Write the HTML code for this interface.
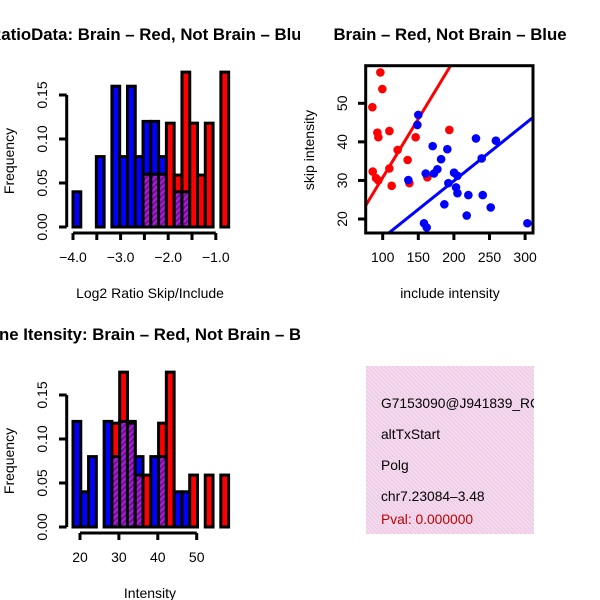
<!DOCTYPE html>
<html><head><meta charset="utf-8"><style>
html,body{margin:0;padding:0;background:#fff}
svg{display:block;font-family:"Liberation Sans",Arial,sans-serif}
</style></head><body>
<svg id="c" width="600" height="600" viewBox="0 0 600 600" xmlns="http://www.w3.org/2000/svg">
<defs>
<pattern id="hatch" width="4" height="4" patternUnits="userSpaceOnUse" patternTransform="rotate(45)">
<rect width="4" height="4" fill="#a020f0"/><rect width="2" height="4" fill="#7a1080"/>
</pattern>
<pattern id="pinkhatch" width="3" height="3" patternUnits="userSpaceOnUse" patternTransform="rotate(-45)">
<rect width="3" height="3" fill="#f8d8f0"/><rect width="1" height="3" fill="#e4cce0"/>
</pattern>
<clipPath id="clipL"><rect x="0" y="0" width="300" height="600"/></clipPath>
<clipPath id="clipSc"><rect x="366" y="66" width="167" height="167"/></clipPath>
<clipPath id="clipBox"><rect x="366" y="366" width="168" height="168"/></clipPath>
</defs>
<g id="g1"></g>
<g id="g2"></g>
<g id="g3"></g>
<g clip-path="url(#clipBox)">
<rect x="366" y="366" width="168" height="168" fill="url(#pinkhatch)"/>
<text x="381" y="408" font-size="13.8">G7153090@J941839_RC</text>
<text x="381" y="439" font-size="13.8">altTxStart</text>
<text x="381" y="470" font-size="13.8">Polg</text>
<text x="381" y="501" font-size="13.8">chr7.23084–3.48</text>
<text x="381" y="524" font-size="13.8" fill="#c00000">Pval: 0.000000</text>
</g>
</svg>
<script>
// ---- histogram 1 data (Log2 ratio) ----
const h1Start = -4.0;
const h1Width = 0.1635;
const h1Blue = [0.04,0,0,0.08,0,0.16,0.08,0.16,0.08,0.12,0.12,0.08,0,0.04,0.04,0,0,0,0,0];
const h1Red  = [0,0,0,0,0,0,0,0,0,0.06,0.06,0.06,0.118,0.059,0.176,0.118,0.059,0.118,0,0.176];
const h1XTicks = [-4.0,-3.5,-3.0,-2.5,-2.0,-1.5,-1.0];
const h1XLabels = ["−4.0","","−3.0","","−2.0","","−1.0"];
// ---- histogram 2 data (Intensity) ----
const h2Start = 18.2;
const h2Width = 2.0;
const h2Blue = [0.12,0.04,0.08,0,0.12,0.08,0.12,0.12,0.08,0,0.08,0.08,0,0.04,0.04,0,0,0,0,0];
const h2Red  = [0,0,0,0,0,0.118,0.176,0.118,0.059,0.059,0,0.118,0.176,0,0,0.059,0,0.059,0,0.059];
const h2XTicks = [20,30,40,50];
const yTicks = [0,0.05,0.10,0.15];
const yLabels = ["0.00","0.05","0.10","0.15"];
// ---- scatter data ----
const redX = [96.7,99.5,85.5,92.5,93.9,109.4,146.3,193.6,121,135,86,90.6,93.9,109.4,112.6,137.5,162.7];
const redY = [58.0,53.7,49.0,42.4,41.2,42.8,41.2,43.1,37.9,35.3,32.3,30.6,30.0,33.1,28.6,29.3,30.8];
const blueX = [150,148.7,136,170.2,190.8,182,176.8,172,160.4,200.2,205,192.2,203,205,220.3,240.5,186.6,218,251.7,231,259,239,158,161.8,303.2];
const blueY = [47.0,44.4,30.1,38.9,38.1,35.5,32.9,31.8,31.8,32.0,31.2,29.3,28.2,26.7,26.2,26.2,23.8,20.9,23.0,40.9,40.3,35.7,18.9,17.8,18.9];
const redFit = [0.36,0.304];   // intercept, slope
const blueFit = [0.3,0.148];
const scXTicks = [100,150,200,250,300];
const scYTicks = [20,30,40,50];

const FS = 14, TFS = 16.8;
const NS="http://www.w3.org/2000/svg";
function mk(parent,tag,attrs,text){const e=document.createElementNS(NS,tag);for(const k in attrs)e.setAttribute(k,attrs[k]);if(text!==undefined)e.textContent=text;parent.appendChild(e);return e;}

function hist(gid,start,width,blue,red,xScale,yBase,xTicks,xLabels,xAxisY,title,titleX,titleAnchor,xlab,xlabY,titleY){
  const g=document.getElementById(gid);
  const yS=v=>yBase-v*880;
  for(let i=0;i<blue.length;i++){
    const x0=xScale(start+i*width), x1=xScale(start+(i+1)*width);
    const b=blue[i], r=red[i];
    const mx=Math.max(b,r), mn=Math.min(b,r);
    if(mx>0){
      const rc=mk(g,'rect',{x:x0,y:yS(mx),width:x1-x0,height:yS(0)-yS(mx),fill:b>=r?'#0000ff':'#ff0000',stroke:'#000','stroke-width':3});
      
      
    }
    if(mn>0){
      const pc=mk(g,'rect',{x:x0,y:yS(mn),width:x1-x0,height:yS(0)-yS(mn),fill:'url(#hatch)',stroke:'#000','stroke-width':3});
      
      
    }
  }
  const yAx=mk(g,'g',{});
  
  
  mk(yAx,'line',{x1:66.7,x2:66.7,y1:yS(0),y2:yS(0.15),stroke:'#000','stroke-width':3});
  yTicks.forEach((t,i)=>{
    mk(yAx,'line',{x1:59,x2:66.7,y1:yS(t),y2:yS(t),stroke:'#000','stroke-width':3});
    const tx=mk(yAx,'text',{x:47,y:yS(t),'font-size':FS,'text-anchor':'middle',transform:`rotate(-90 47 ${yS(t)})`},yLabels[i]);
    
    
  });
  const yt=mk(g,'text',{x:14,y:yS(0.075),'font-size':FS,'text-anchor':'middle',transform:`rotate(-90 14 ${yS(0.075)})`},'Frequency');
  
  
  const xAx=mk(g,'g',{});
  
  
  mk(xAx,'line',{x1:xScale(xTicks[0]),x2:xScale(xTicks[xTicks.length-1]),y1:xAxisY,y2:xAxisY,stroke:'#000','stroke-width':3});
  xTicks.forEach((t,i)=>{
    mk(xAx,'line',{x1:xScale(t),x2:xScale(t),y1:xAxisY,y2:xAxisY+7,stroke:'#000','stroke-width':3});
    if(xLabels[i]){
      const tx=mk(xAx,'text',{x:xScale(t),y:xAxisY+29,'font-size':FS,'text-anchor':'middle'},xLabels[i]);
      
      
    }
  });
  const xt=mk(g,'text',{x:150,y:xlabY,'font-size':FS,'text-anchor':'middle'},xlab);
  
  
  const tt=mk(g,'text',{x:titleX,y:titleY,'font-size':TFS,'font-weight':'bold','text-anchor':titleAnchor,'clip-path':'url(#clipL)'},title);
  
  
}
const x1S=v=>73+(v+4)*47.6;
hist('g1',h1Start,h1Width,h1Blue,h1Red,x1S,227,h1XTicks,h1XLabels,233,'RatioData: Brain – Red, Not Brain – Blue',150,'middle','Log2 Ratio Skip/Include',298,40);
const x2S=v=>80+(v-20)*3.89;
hist('g2',h2Start,h2Width,h2Blue,h2Red,x2S,527,h2XTicks,h2XTicks.map(String),533,'ne Itensity: Brain – Red, Not Brain – Blue',-1,'start','Intensity',598,340);

// scatter
(function(){
  const g=document.getElementById('g3');
  const xS=v=>382.7+(v-100)*0.712;
  const yS=v=>103.3-(v-50)*3.857;
  const pts=mk(g,'g',{'clip-path':'url(#clipSc)'});
  
  
  [[redFit,'#ff0000','red-fit-line'],[blueFit,'#0000ff','blue-fit-line']].forEach(([f,c,n])=>{
    const xa=50,xb=330;
    const l=mk(pts,'line',{x1:xS(xa),y1:yS(f[0]+f[1]*xa),x2:xS(xb),y2:yS(f[0]+f[1]*xb),stroke:c,'stroke-width':3});
    
    
  });
  redX.forEach((x,i)=>{
    const c=mk(pts,'circle',{cx:xS(x),cy:yS(redY[i]),r:4.3,fill:'#ff0000'});
    
    
  });
  blueX.forEach((x,i)=>{
    const c=mk(pts,'circle',{cx:xS(x),cy:yS(blueY[i]),r:4.3,fill:'#0000ff'});
    
    
  });
  const box=mk(g,'rect',{x:365.7,y:65.7,width:167.3,height:167.3,fill:'none',stroke:'#000','stroke-width':3});
  
  
  scXTicks.forEach(t=>{
    mk(g,'line',{x1:xS(t),x2:xS(t),y1:233,y2:240,stroke:'#000','stroke-width':3});
    const tx=mk(g,'text',{x:xS(t),y:262,'font-size':FS,'text-anchor':'middle'},String(t));
    
    
  });
  scYTicks.forEach(t=>{
    mk(g,'line',{x1:358,x2:365.7,y1:yS(t),y2:yS(t),stroke:'#000','stroke-width':3});
    const tx=mk(g,'text',{x:347,y:yS(t),'font-size':FS,'text-anchor':'middle',transform:`rotate(-90 347 ${yS(t)})`},String(t));
    
    
  });
  const xt=mk(g,'text',{x:450,y:298,'font-size':FS,'text-anchor':'middle'},'include intensity');
  
  
  const yt=mk(g,'text',{x:314,y:150,'font-size':FS,'text-anchor':'middle',transform:'rotate(-90 314 150)'},'skip intensity');
  
  
  const tt=mk(g,'text',{x:450,y:40,'font-size':TFS,'font-weight':'bold','text-anchor':'middle'},'Brain – Red, Not Brain – Blue');
  
  
})();
</script>
</body></html>
